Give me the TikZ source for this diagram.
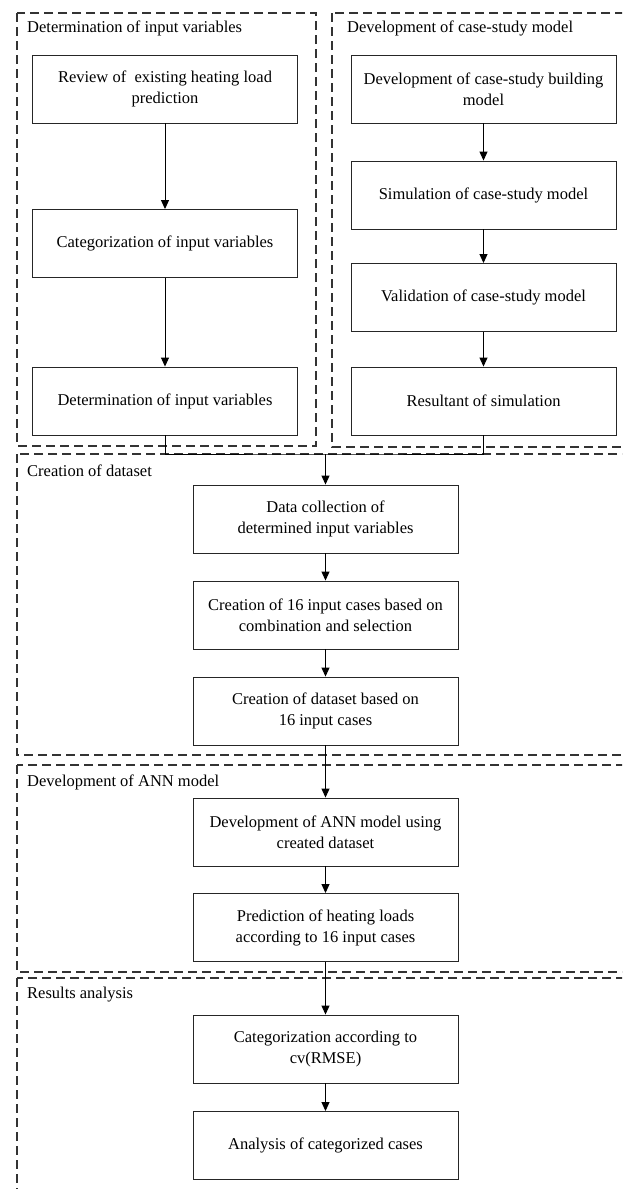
\documentclass[tikz,border=0pt]{standalone}
\usepackage{fontspec}
\setmainfont{Liberation Serif}
\usetikzlibrary{arrows.meta}
\begin{document}
\begin{tikzpicture}[x=1pt,y=-1pt,
  stepbox/.style={draw=black!85, line width=0.9pt, minimum width=265pt, minimum height=68pt, align=center, inner sep=2pt, font=\fontsize{16.5}{21}\selectfont},
  grouplbl/.style={anchor=west, inner sep=0pt, font=\fontsize{16.5}{21}\selectfont},
  groupbox/.style={draw=black!80, line width=1.1pt, dash pattern=on 9pt off 5pt},
  flow/.style={draw=black, line width=1pt, -{Triangle[length=9pt,width=8pt]}},
  link/.style={draw=black, line width=1pt}]
\useasboundingbox (0,0) rectangle (622,1189);
\clip (0,0) rectangle (622,1189);
\fill[white] (0,0) rectangle (622,1189);
% groups
\draw[groupbox] (17,13) rectangle (316,446);
\draw[groupbox] (332,13) rectangle (660,447);
\draw[groupbox] (17,454) rectangle (660,755);
\draw[groupbox] (17,765) rectangle (660,972);
\draw[groupbox] (17,978) rectangle (660,1220);
\node[grouplbl] (g1) at (27,28) {Determination of input variables};
\node[grouplbl] (g2) at (347,28) {Development of case-study model};
\node[grouplbl] (g3) at (27,471) {Creation of dataset};
\node[grouplbl] (g4) at (27,782) {Development of ANN model};
\node[grouplbl] (g5) at (27,995) {Results analysis};
% boxes
\node[stepbox] (L1) at (165,89) {Review of~ existing heating load\\prediction};
\node[stepbox] (L2) at (165,243.5) {Categorization of input variables};
\node[stepbox] (L3) at (165,401) {Determination of input variables};
\node[stepbox] (R1) at (483.5,89) {Development of case-study building\\model};
\node[stepbox] (R2) at (483.5,195) {Simulation of case-study model};
\node[stepbox] (R3) at (483.5,297.5) {Validation of case-study model};
\node[stepbox] (R4) at (483.5,401) {Resultant of simulation};
\node[stepbox] (C1) at (325.5,519) {Data collection of\\determined input variables};
\node[stepbox] (C2) at (325.5,615) {Creation of 16 input cases based on\\combination and selection};
\node[stepbox] (C3) at (325.5,711) {Creation of dataset based on\\16 input cases};
\node[stepbox] (D1) at (325.5,832) {Development of ANN model using\\created dataset};
\node[stepbox] (D2) at (325.5,927.5) {Prediction of heating loads\\according to 16 input cases};
\node[stepbox] (E1) at (325.5,1049) {Categorization according to\\cv(RMSE)};
\node[stepbox] (E2) at (325.5,1145.5) {Analysis of categorized cases};
% connectors
\draw[flow] (L1) -- (L2);
\draw[flow] (L2) -- (L3);
\draw[flow] (R1) -- (R2);
\draw[flow] (R2) -- (R3);
\draw[flow] (R3) -- (R4);
\coordinate (J) at (325.5,454);
\draw[link] (L3.south) |- (J) -| (R4.south);
\draw[flow] (J) -- (C1.north);
\draw[flow] (C1) -- (C2);
\draw[flow] (C2) -- (C3);
\draw[flow] (C3) -- (D1);
\draw[flow] (D1) -- (D2);
\draw[flow] (D2) -- (E1);
\draw[flow] (E1) -- (E2);
\end{tikzpicture}
\end{document}
